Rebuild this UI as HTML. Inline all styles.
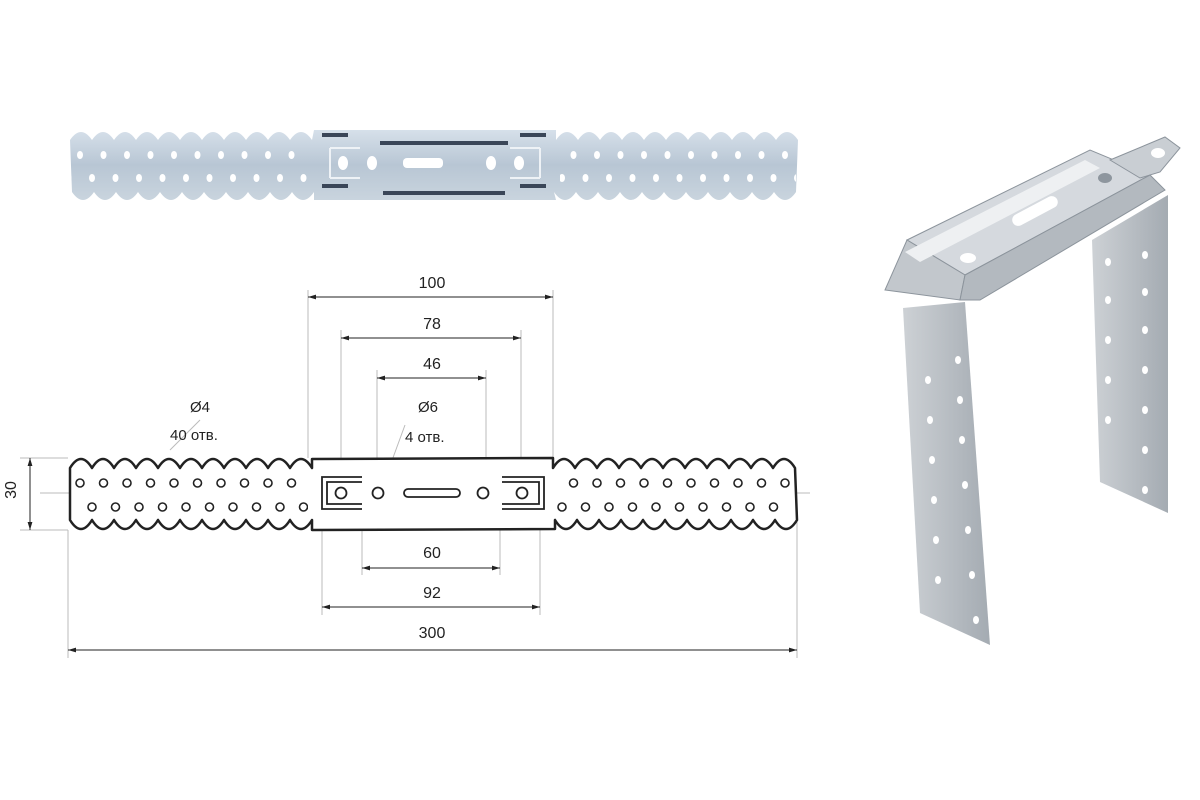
<!DOCTYPE html>
<html><head><meta charset="utf-8"><style>html,body{margin:0;padding:0;background:#fff}svg{display:block}</style></head>
<body>
<svg width="1200" height="800" viewBox="0 0 1200 800" xmlns="http://www.w3.org/2000/svg" font-family="Liberation Sans, sans-serif">
<defs>
<linearGradient id="met" x1="0" y1="0" x2="0" y2="1"><stop offset="0" stop-color="#d6e0ea"/><stop offset="0.5" stop-color="#b8c6d4"/><stop offset="1" stop-color="#c9d4de"/></linearGradient>
<linearGradient id="leg" x1="0" y1="0" x2="1" y2="0"><stop offset="0" stop-color="#cdd1d5"/><stop offset="1" stop-color="#a4abb2"/></linearGradient>
<pattern id="hT" x="68" y="0" width="23.5" height="800" patternUnits="userSpaceOnUse"><circle cx="12" cy="483" r="4" fill="#fff" stroke="#222" stroke-width="1.6"/></pattern>
<pattern id="hB" x="80" y="0" width="23.5" height="800" patternUnits="userSpaceOnUse"><circle cx="12" cy="507" r="4" fill="#fff" stroke="#222" stroke-width="1.6"/></pattern>
<pattern id="pT" x="68" y="0" width="23.5" height="800" patternUnits="userSpaceOnUse"><ellipse cx="12" cy="155" rx="3" ry="4" fill="#fff"/></pattern>
<pattern id="pB" x="80" y="0" width="23.5" height="800" patternUnits="userSpaceOnUse"><ellipse cx="12" cy="178" rx="3" ry="4" fill="#fff"/></pattern>
<marker id="ar" viewBox="0 0 10 10" refX="10" refY="5" markerWidth="8" markerHeight="8" orient="auto-start-reverse"><path d="M0,2 L10,5 L0,8 z" fill="#222"/></marker>
</defs>

<!-- photo strip -->
<path d="M70,140 q11,-16 22,0 q11,-16 22,0 q11,-16 22,0 q11,-16 22,0 q11,-16 22,0 q11,-16 22,0 q11,-16 22,0 q11,-16 22,0 q11,-16 22,0 q11,-16 22,0 q11,-16 22,0 L314,130 L556,130 L556,140 q11,-16 22,0 q11,-16 22,0 q11,-16 22,0 q11,-16 22,0 q11,-16 22,0 q11,-16 22,0 q11,-16 22,0 q11,-16 22,0 q11,-16 22,0 q11,-16 22,0 q11,-16 22,0 L796,192 q-11,16 -22,0 q-11,16 -22,0 q-11,16 -22,0 q-11,16 -22,0 q-11,16 -22,0 q-11,16 -22,0 q-11,16 -22,0 q-11,16 -22,0 q-11,16 -22,0 q-11,16 -22,0 q-11,16 -22,0 L556,200 L314,200 L314,192 q-11,16 -22,0 q-11,16 -22,0 q-11,16 -22,0 q-11,16 -22,0 q-11,16 -22,0 q-11,16 -22,0 q-11,16 -22,0 q-11,16 -22,0 q-11,16 -22,0 q-11,16 -22,0 q-11,16 -22,0 Z" fill="url(#met)"/>
<rect x="70" y="148" width="240" height="14" fill="url(#pT)"/>
<rect x="560" y="148" width="236" height="14" fill="url(#pT)"/>
<rect x="70" y="171" width="240" height="14" fill="url(#pB)"/>
<rect x="560" y="171" width="236" height="14" fill="url(#pB)"/>
<g fill="#3a4658"><rect x="322" y="133" width="26" height="4"/><rect x="380" y="141" width="128" height="4"/><rect x="383" y="191" width="122" height="4"/><rect x="322" y="184" width="26" height="4"/><rect x="520" y="133" width="26" height="4"/><rect x="520" y="184" width="26" height="4"/></g>
<g fill="#fff"><ellipse cx="343" cy="163" rx="5" ry="7"/><ellipse cx="372" cy="163" rx="5" ry="7"/><rect x="403" y="158" width="40" height="10" rx="4"/><ellipse cx="491" cy="163" rx="5" ry="7"/><ellipse cx="519" cy="163" rx="5" ry="7"/></g>
<path d="M330,148 H360 M330,178 H360 M510,148 H540 M510,178 H540 M330,148 V178 M540,148 V178" stroke="#eef2f6" stroke-width="2" fill="none"/>

<!-- drawing: centerline/extension lines -->
<g stroke="#bbb" stroke-width="1" fill="none">
<line x1="40" y1="493" x2="810" y2="493"/>
<line x1="308" y1="290" x2="308" y2="458"/><line x1="553" y1="290" x2="553" y2="458"/>
<line x1="341" y1="330" x2="341" y2="480"/><line x1="521" y1="330" x2="521" y2="480"/>
<line x1="377" y1="370" x2="377" y2="485"/><line x1="486" y1="370" x2="486" y2="485"/>
<line x1="362" y1="500" x2="362" y2="575"/><line x1="500" y1="500" x2="500" y2="575"/>
<line x1="322" y1="500" x2="322" y2="615"/><line x1="540" y1="500" x2="540" y2="615"/>
<line x1="68" y1="530" x2="68" y2="658"/><line x1="797" y1="500" x2="797" y2="658"/>
<line x1="20" y1="458" x2="68" y2="458"/><line x1="20" y1="530" x2="68" y2="530"/>
<line x1="170" y1="450" x2="200" y2="420"/><line x1="383" y1="485" x2="405" y2="425"/>
</g>
<!-- part outline -->
<path d="M70,468 q11,-18 22,0 q11,-18 22,0 q11,-18 22,0 q11,-18 22,0 q11,-18 22,0 q11,-18 22,0 q11,-18 22,0 q11,-18 22,0 q11,-18 22,0 q11,-18 22,0 q11,-18 22,0 L312,459 L553,458 L553,468 q11,-18 22,0 q11,-18 22,0 q11,-18 22,0 q11,-18 22,0 q11,-18 22,0 q11,-18 22,0 q11,-18 22,0 q11,-18 22,0 q11,-18 22,0 q11,-18 22,0 q11,-18 22,0 L797,520 q-11,18 -22,0 q-11,18 -22,0 q-11,18 -22,0 q-11,18 -22,0 q-11,18 -22,0 q-11,18 -22,0 q-11,18 -22,0 q-11,18 -22,0 q-11,18 -22,0 q-11,18 -22,0 q-11,18 -22,0 L555,529 L312,530 L312,520 q-11,18 -22,0 q-11,18 -22,0 q-11,18 -22,0 q-11,18 -22,0 q-11,18 -22,0 q-11,18 -22,0 q-11,18 -22,0 q-11,18 -22,0 q-11,18 -22,0 q-11,18 -22,0 q-11,18 -22,0 Z" fill="#fff" stroke="#222" stroke-width="2.5" stroke-linejoin="round"/>
<rect x="72" y="476" width="230" height="14" fill="url(#hT)"/>
<rect x="560" y="476" width="236" height="14" fill="url(#hT)"/>
<rect x="80" y="500" width="228" height="14" fill="url(#hB)"/>
<rect x="548" y="500" width="240" height="14" fill="url(#hB)"/>
<g fill="none" stroke="#222" stroke-width="1.8">
<path d="M362,477 H322 V509 H362 M362,482 H327 V504 H362"/>
<path d="M502,477 H544 V509 H502 M502,482 H539 V504 H502"/>
<circle cx="341" cy="493" r="5.5"/><circle cx="378" cy="493" r="5.5"/><circle cx="483" cy="493" r="5.5"/><circle cx="522" cy="493" r="5.5"/>
<rect x="404" y="489" width="56" height="8" rx="4"/>
</g>
<!-- dimensions -->
<g stroke="#222" stroke-width="1" marker-start="url(#ar)" marker-end="url(#ar)">
<line x1="308" y1="297" x2="553" y2="297"/>
<line x1="341" y1="338" x2="521" y2="338"/>
<line x1="377" y1="378" x2="486" y2="378"/>
<line x1="362" y1="568" x2="500" y2="568"/>
<line x1="322" y1="607" x2="540" y2="607"/>
<line x1="68" y1="650" x2="797" y2="650"/>
<line x1="30" y1="458" x2="30" y2="530"/>
</g>
<g font-size="16" fill="#222" text-anchor="middle">
<text x="432" y="288">100</text><text x="432" y="329">78</text><text x="432" y="369">46</text>
<text x="432" y="558">60</text><text x="432" y="598">92</text><text x="432" y="638">300</text>
<text x="20" y="494" transform="rotate(-90 16 494)">30</text>
</g>
<g font-size="15" fill="#222">
<text x="190" y="412">Ø4</text><text x="170" y="440">40 отв.</text>
<text x="418" y="412">Ø6</text><text x="405" y="442">4 отв.</text>
</g>

<!-- 3D bracket -->
<polygon points="1092,240 1168,195 1168,513 1100,482" fill="url(#leg)"/>
<polygon points="903,308 965,302 990,645 920,613" fill="url(#leg)"/>
<g fill="#fff">
<ellipse cx="1108" cy="262" rx="3" ry="4"/><ellipse cx="1145" cy="255" rx="3" ry="4"/><ellipse cx="1108" cy="300" rx="3" ry="4"/><ellipse cx="1145" cy="292" rx="3" ry="4"/><ellipse cx="1108" cy="340" rx="3" ry="4"/><ellipse cx="1145" cy="330" rx="3" ry="4"/><ellipse cx="1108" cy="380" rx="3" ry="4"/><ellipse cx="1145" cy="370" rx="3" ry="4"/><ellipse cx="1108" cy="420" rx="3" ry="4"/><ellipse cx="1145" cy="410" rx="3" ry="4"/><ellipse cx="1145" cy="450" rx="3" ry="4"/><ellipse cx="1145" cy="490" rx="3" ry="4"/>
<ellipse cx="928" cy="380" rx="3" ry="4"/><ellipse cx="958" cy="360" rx="3" ry="4"/><ellipse cx="930" cy="420" rx="3" ry="4"/><ellipse cx="960" cy="400" rx="3" ry="4"/><ellipse cx="932" cy="460" rx="3" ry="4"/><ellipse cx="962" cy="440" rx="3" ry="4"/><ellipse cx="934" cy="500" rx="3" ry="4"/><ellipse cx="965" cy="485" rx="3" ry="4"/><ellipse cx="936" cy="540" rx="3" ry="4"/><ellipse cx="968" cy="530" rx="3" ry="4"/><ellipse cx="938" cy="580" rx="3" ry="4"/><ellipse cx="972" cy="575" rx="3" ry="4"/><ellipse cx="976" cy="620" rx="3" ry="4"/>
</g>
<!-- top channel -->
<polygon points="907,240 1090,150 1150,175 965,275" fill="#d5d9de" stroke="#8c949c" stroke-width="1"/>
<polygon points="1110,160 1165,137 1180,148 1160,172 1140,178" fill="#c9ced3" stroke="#8c949c" stroke-width="1"/>
<polygon points="885,290 907,240 965,275 960,300" fill="#c2c7cc" stroke="#8c949c" stroke-width="1"/>
<polygon points="960,300 965,275 1150,175 1165,190 980,300" fill="#b3b9bf" stroke="#8c949c" stroke-width="1"/>
<polygon points="905,252 1085,160 1100,168 920,262" fill="#eef0f2"/>
<rect x="1010" y="205" width="50" height="12" rx="6" transform="rotate(-28 1035 211)" fill="#fff"/>
<ellipse cx="968" cy="258" rx="8" ry="5" fill="#fff"/><ellipse cx="1158" cy="153" rx="7" ry="5" fill="#fff"/>
<ellipse cx="1105" cy="178" rx="7" ry="5" fill="#8e969e"/>
</svg>
</body></html>
